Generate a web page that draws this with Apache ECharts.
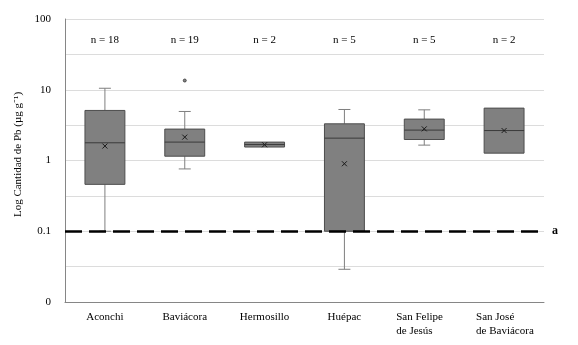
<!DOCTYPE html>
<html>
<head>
<meta charset="utf-8">
<script src="https://cdn.jsdelivr.net/npm/echarts@6/dist/echarts.min.js"></script>
<style>
  html, body { margin: 0; padding: 0; background: #fff; }
  #chart { width: 578px; height: 345px; }
</style>
</head>
<body>
<div id="chart"></div>
<script>
// datos (µg/g, escala log)
const categories = ['Aconchi', 'Baviácora', 'Hermosillo', 'Huépac', 'San Felipe\nde Jesús', 'San José\nde Baviácora'];
const counts = [18, 19, 2, 5, 5, 2];
const whiskerLow = [0.1, 0.76, null, 0.029, 1.65, null];
const q1 = [0.46, 1.15, 1.55, 0.1, 1.98, 1.27];
const median = [1.78, 1.82, 1.68, 2.07, 2.69, 2.65];
const q3 = [5.1, 2.78, 1.82, 3.3, 3.85, 5.5];
const whiskerHigh = [10.5, 4.93, null, 5.26, 5.2, null];
const means = [1.6, 2.14, 1.67, 0.9, 2.8, 2.65];
const outliers = [[1, 13.5]];
const threshold = 0.1;
const tickLabels = { '-2': '0', '-1': '0.1', '0': '1', '1': '10', '2': '100' };

const FONT = 'Liberation Serif';
const lg = v => (v == null ? '-' : Math.log10(v));

const boxData = categories.map((c, i) => [
  i, lg(whiskerLow[i]), lg(q1[i]), lg(median[i]), lg(q3[i]), lg(whiskerHigh[i]), lg(means[i])
]);

function renderBox(params, api) {
  const x = api.value(0);
  const lo = api.value(1), a = api.value(2), m = api.value(3), b = api.value(4), hi = api.value(5), mean = api.value(6);
  const band = api.size([1, 0])[0];
  const w = band * 0.5;
  const cap = band * 0.15;
  const pA = api.coord([x, a]);
  const pB = api.coord([x, b]);
  const pM = api.coord([x, m]);
  const cx = pA[0];
  const children = [];
  const wStyle = { stroke: '#7f7f7f', lineWidth: 1 };
  if (!isNaN(hi)) {
    const p = api.coord([x, hi]);
    children.push({ type: 'line', shape: { x1: cx, y1: p[1], x2: cx, y2: pB[1] }, style: wStyle });
    children.push({ type: 'line', shape: { x1: cx - cap / 2, y1: p[1], x2: cx + cap / 2, y2: p[1] }, style: wStyle });
  }
  if (!isNaN(lo)) {
    const p = api.coord([x, lo]);
    children.push({ type: 'line', shape: { x1: cx, y1: pA[1], x2: cx, y2: p[1] }, style: wStyle });
    children.push({ type: 'line', shape: { x1: cx - cap / 2, y1: p[1], x2: cx + cap / 2, y2: p[1] }, style: wStyle });
  }
  children.push({
    type: 'rect',
    shape: { x: cx - w / 2, y: pB[1], width: w, height: pA[1] - pB[1] },
    style: { fill: '#808080', stroke: '#4d4d4d', lineWidth: 1 }
  });
  children.push({ type: 'line', shape: { x1: cx - w / 2, y1: pM[1], x2: cx + w / 2, y2: pM[1] }, style: { stroke: '#3a3a3a', lineWidth: 1 } });
  const pMean = api.coord([x, mean]);
  const s = 2.5;
  const xs = { stroke: '#1a1a1a', lineWidth: 1 };
  children.push({ type: 'line', shape: { x1: pMean[0] - s, y1: pMean[1] - s, x2: pMean[0] + s, y2: pMean[1] + s }, style: xs });
  children.push({ type: 'line', shape: { x1: pMean[0] - s, y1: pMean[1] + s, x2: pMean[0] + s, y2: pMean[1] - s }, style: xs });
  return { type: 'group', children: children };
}

const chart = echarts.init(document.getElementById('chart'));
chart.setOption({
  backgroundColor: '#fff',
  animation: false,
  grid: { left: 65, right: 34, top: 19, bottom: 43 },
  xAxis: [{
    type: 'category',
    data: categories,
    boundaryGap: true,
    axisLine: { onZero: false, lineStyle: { color: '#868686', width: 1 } },
    axisTick: { show: false },
    axisLabel: {
      interval: 0,
      margin: 8,
      fontFamily: FONT, fontSize: 11, color: '#000', lineHeight: 14,
      formatter: v => v.indexOf('\n') < 0 ? v : v.split('\n').map(l => '{l|' + l + '}').join('\n'),
      rich: { l: { fontFamily: FONT, fontSize: 11, color: '#000', align: 'left', width: 56, lineHeight: 14 } }
    }
  }, {
    type: 'category',
    position: 'top',
    data: counts.map(n => 'n = ' + n),
    boundaryGap: true,
    axisLine: { show: false },
    axisTick: { show: false },
    axisLabel: { interval: 0, inside: true, margin: 16, fontFamily: FONT, fontSize: 11, color: '#000' }
  }],
  yAxis: {
    type: 'value',
    min: -2, max: 2, interval: 0.5,
    name: 'Log Cantidad de Pb (µg g⁻¹)',
    nameLocation: 'middle',
    nameGap: 36,
    nameTextStyle: { fontFamily: FONT, fontSize: 11, color: '#000', padding: [0, 0, 0, 12] },
    axisLine: { show: true, lineStyle: { color: '#868686', width: 1 } },
    axisTick: { show: false },
    splitLine: { lineStyle: { color: '#dcdcdc', width: 1 } },
    axisLabel: {
      margin: 14,
      fontFamily: FONT, fontSize: 11, color: '#000',
      formatter: v => tickLabels[String(v)] || ''
    }
  },
  series: [{
    type: 'custom',
    renderItem: renderBox,
    data: boxData,
    encode: { x: 0, y: [1, 2, 3, 4, 5, 6] },
    z: 3,
    markLine: {
      silent: true,
      symbol: 'none',
      lineStyle: { color: '#000', width: 2.5, type: [17, 7] },
      label: { show: true, position: 'end', formatter: 'a', fontFamily: FONT, fontSize: 12, fontWeight: 'bold', color: '#000', distance: 8 },
      data: [{ yAxis: Math.log10(threshold) }]
    }
  }, {
    type: 'scatter',
    data: outliers.map(o => [o[0], Math.log10(o[1])]),
    symbol: 'circle',
    symbolSize: 3,
    itemStyle: { color: '#666', borderColor: '#333', borderWidth: 1 },
    z: 4
  }]
});
</script>
</body>
</html>
